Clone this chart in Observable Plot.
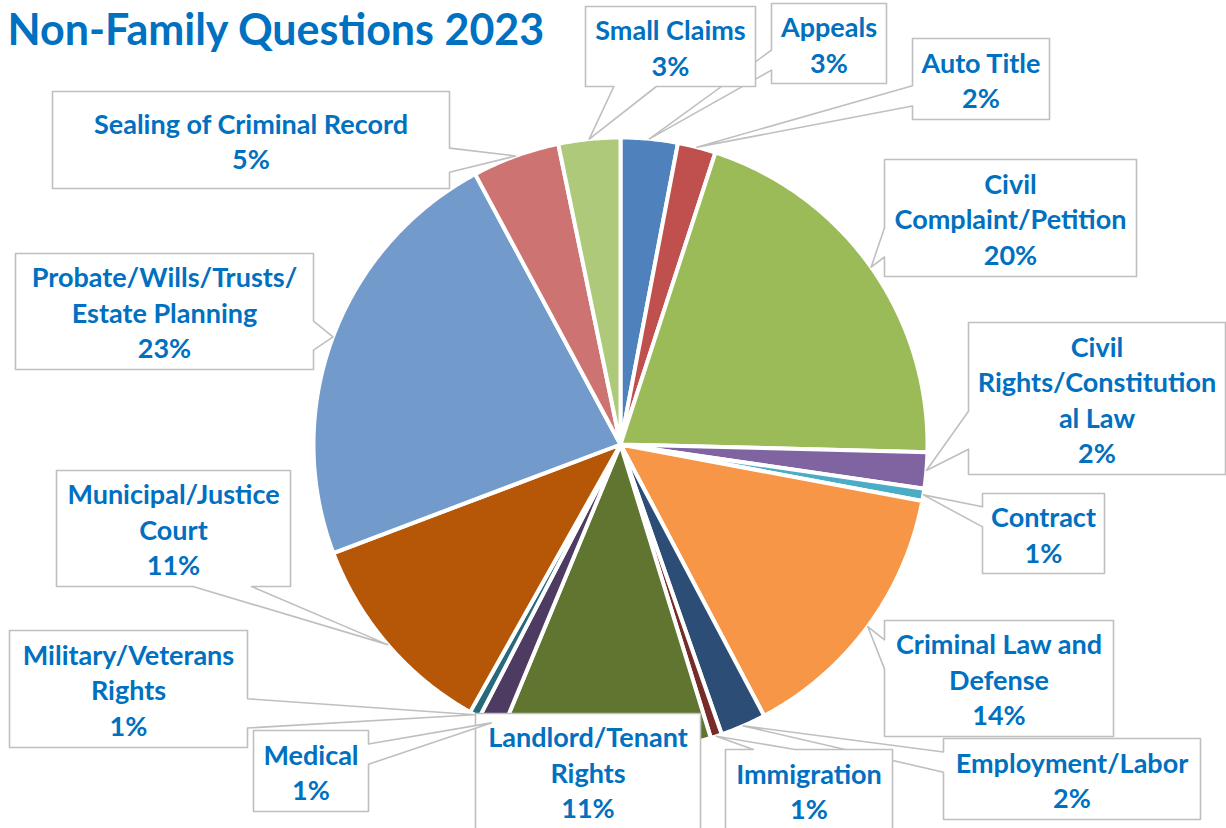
<!DOCTYPE html>
<html><head><meta charset="utf-8">
<script src="https://cdn.jsdelivr.net/npm/d3@7"></script>
<script src="https://cdn.jsdelivr.net/npm/@observablehq/plot@0.6"></script>
<style>
html,body{margin:0;padding:0;background:#fff;overflow:hidden;}
#chart svg{display:block;}
</style></head><body>
<div id="chart"></div>
<script>
// ---------- data ----------
const categories = ["Appeals","Auto Title","Civil Complaint/Petition","Civil Rights/Constitutional Law","Contract","Criminal Law and Defense","Employment/Labor","Immigration","Landlord/Tenant Rights","Medical","Military/Veterans Rights","Municipal/Justice Court","Probate/Wills/Trusts/Estate Planning","Sealing of Criminal Record","Small Claims"];
const shares = [3.0, 2.0, 20.4, 1.9, 0.65, 14.3, 2.4, 0.6, 11.0, 1.35, 0.55, 11.1, 22.9, 4.6, 3.25];
const percentLabels = ["3%","2%","20%","2%","1%","14%","2%","1%","11%","1%","1%","11%","23%","5%","3%"];
const labelLines = ["Appeals","Auto Title","Civil\nComplaint/Petition","Civil\nRights/Constitution\nal Law","Contract","Criminal Law and\nDefense","Employment/Labor","Immigration","Landlord/Tenant\nRights","Medical","Military/Veterans\nRights","Municipal/Justice\nCourt","Probate/Wills/Trusts/\nEstate Planning","Sealing of Criminal Record","Small Claims"];
const sliceColors = ["#4F81BD","#C0504D","#9BBB59","#8064A2","#4BACC6","#F79646","#2C4D75","#772C2A","#5F7530","#4D3B62","#276A7C","#B65708","#729ACA","#CD7371","#AFC97A"];
const title = "Non-Family Questions 2023";

// ---------- layout ----------
const W = 1226, H = 828;
const pieCenter = [620, 444], pieRadius = 307;
const labelBoxes = [
  [771,3,886,83],[912,38,1049,119],[884,159,1136,276],[968,322,1225,474],
  [982,493,1104,573],[884,620,1113,736],[943,738,1200,819],[725,749,892,830],
  [475,713,700,829],[253,730,368,811],[9,630,247,747],[56,470,290,586],
  [15,253,313,369],[52,91,449,188],[585,6,755,86]
];
const font = "Lato, 'Open Sans', sans-serif";
const textBlue = "#0070C0";

const data = categories.map((c, i) => ({category: c, value: shares[i], i}));
const arcs = d3.pie().sort(null).value(d => d.value)(data);

const px = a => pieCenter[0] + pieRadius * Math.sin(a);
const py = a => pieCenter[1] - pieRadius * Math.cos(a);

// slice polygons
const slicePts = [];
for (const a of arcs) {
  const k = a.data.category;
  slicePts.push({k, x: pieCenter[0], y: pieCenter[1]});
  const n = Math.max(2, Math.ceil((a.endAngle - a.startAngle) / (Math.PI / 360)));
  for (let j = 0; j <= n; j++) {
    const t = a.startAngle + (a.endAngle - a.startAngle) * j / n;
    slicePts.push({k, x: px(t), y: py(t)});
  }
  slicePts.push({k, x: pieCenter[0], y: pieCenter[1]});
}

// callout polygons (Excel wedge-rect callout)
const calloutPts = [];
const labelData = [];
arcs.forEach((a, i) => {
  const [x0, y0, x1, y1] = labelBoxes[i];
  const w = x1 - x0, h = y1 - y0, cx = (x0 + x1) / 2, cy = (y0 + y1) / 2;
  const mid = (a.startAngle + a.endAngle) / 2;
  const tx = px(mid), ty = py(mid);
  const inside = tx > x0 && tx < x1 && ty > y0 && ty < y1;
  const dx = (tx - cx) / w, dy = (ty - cy) / h;
  let side = null;
  if (!inside) side = Math.abs(dx) > Math.abs(dy) ? (dx < 0 ? "l" : "r") : (dy < 0 ? "t" : "b");
  const fx = tx > cx ? [7, 10] : [2, 5];
  const fy = ty > cy ? [7, 10] : [2, 5];
  const k = a.data.category;
  const P = [];
  P.push([x0, y0]);
  if (side === "t") P.push([x0 + w * fx[0] / 12, y0], [tx, ty], [x0 + w * fx[1] / 12, y0]);
  P.push([x1, y0]);
  if (side === "r") P.push([x1, y0 + h * fy[0] / 12], [tx, ty], [x1, y0 + h * fy[1] / 12]);
  P.push([x1, y1]);
  if (side === "b") P.push([x0 + w * fx[1] / 12, y1], [tx, ty], [x0 + w * fx[0] / 12, y1]);
  P.push([x0, y1]);
  if (side === "l") P.push([x0, y0 + h * fy[1] / 12], [tx, ty], [x0, y0 + h * fy[0] / 12]);
  P.push([x0, y0]);
  for (const [x, y] of P) calloutPts.push({k, x, y});
  labelData.push({x: cx, y: cy, text: labelLines[i] + "\n" + percentLabels[i]});
});

const chart = Plot.plot({
  width: W, height: H,
  margin: 0,
  x: {type: "identity", axis: null},
  y: {type: "identity", axis: null},
  color: {domain: categories, range: sliceColors},
  style: {background: "white"},
  marks: [
    Plot.line(slicePts, {x: "x", y: "y", z: "k", fill: "k", stroke: "white", strokeWidth: 4, strokeLinejoin: "round"}),
    Plot.line(calloutPts, {x: "x", y: "y", z: "k", fill: "white", stroke: "#BFBFBF", strokeWidth: 1.6}),
    Plot.text(labelData, {x: "x", y: "y", text: "text", fill: textBlue, fontWeight: 700, fontSize: 27, lineHeight: 1.31, fontFamily: font}),
    Plot.text([title], {x: () => 7, y: () => 31, text: d => d, textAnchor: "start", fill: textBlue, fontWeight: 700, fontSize: 43, fontFamily: font})
  ]
});
document.getElementById("chart").appendChild(chart);
</script>
</body></html>
